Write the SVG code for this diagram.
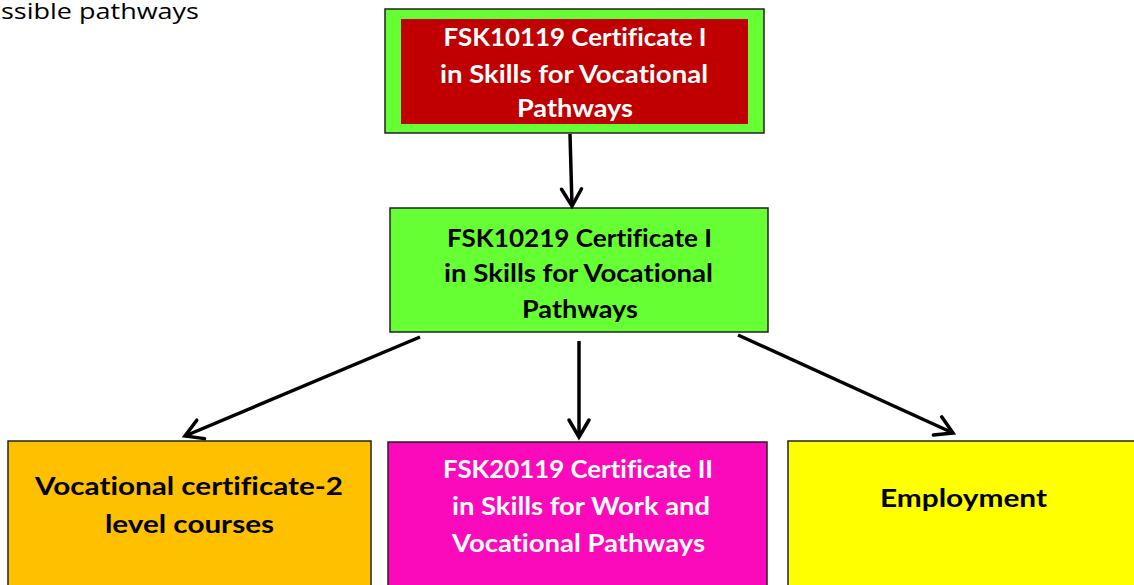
<svg xmlns="http://www.w3.org/2000/svg" width="1134" height="585" viewBox="0 0 1134 585">
  <style>
    .box { stroke: #222; stroke-width: 1.5; }
    .lbl { font-family: Lato, "Liberation Sans", sans-serif; font-weight: bold; font-size: 25px; text-anchor: middle; font-variant-ligatures: none; }
    .dark { fill: #000; }
    .light { fill: #fff; }
    .edge { fill: none; stroke: #000; stroke-width: 3.5; marker-end: url(#chev); }
  </style>
  <defs>
    <marker id="chev" markerUnits="userSpaceOnUse" markerWidth="30" markerHeight="30" viewBox="-22 -15 26 30" refX="0" refY="0" orient="auto">
      <path d="M-17,-10 L0,0 L-17,10" fill="none" stroke="#000" stroke-width="3.5" stroke-linecap="round" stroke-linejoin="miter"/>
    </marker>
  </defs>

  <rect width="1134" height="585" fill="#fff"/>

  <text x="1" y="19" font-family="'Open Sans', 'Liberation Sans', sans-serif" font-size="21" fill="#000" textLength="198" lengthAdjust="spacingAndGlyphs">ssible pathways</text>

  <g id="cert1-10119">
    <rect class="box" x="385" y="9" width="379" height="124" fill="#66ff33"/>
    <rect x="401" y="19" width="347" height="105" fill="#c00000"/>
    <text class="lbl light" x="575" y="46" textLength="263" lengthAdjust="spacingAndGlyphs">FSK10119 Certificate I</text>
    <text class="lbl light" x="574" y="83" textLength="268" lengthAdjust="spacingAndGlyphs">in Skills for Vocational</text>
    <text class="lbl light" x="575" y="117" textLength="116" lengthAdjust="spacingAndGlyphs">Pathways</text>
  </g>

  <g id="cert1-10219">
    <rect class="box" x="390" y="208" width="378" height="124" fill="#66ff33"/>
    <text class="lbl dark" x="579.5" y="247" textLength="265" lengthAdjust="spacingAndGlyphs">FSK10219 Certificate I</text>
    <text class="lbl dark" x="578.5" y="282" textLength="269" lengthAdjust="spacingAndGlyphs">in Skills for Vocational</text>
    <text class="lbl dark" x="580" y="318" textLength="116" lengthAdjust="spacingAndGlyphs">Pathways</text>
  </g>

  <g id="voc-cert2">
    <rect class="box" x="8" y="441" width="363" height="150" fill="#ffc000"/>
    <text class="lbl dark" x="189" y="495" textLength="308" lengthAdjust="spacingAndGlyphs">Vocational certificate-2</text>
    <text class="lbl dark" x="189.5" y="533" textLength="169" lengthAdjust="spacingAndGlyphs">level courses</text>
  </g>

  <g id="cert2-20119">
    <rect class="box" x="388" y="442" width="379" height="150" fill="#fa0aba"/>
    <text class="lbl light" x="578" y="478" textLength="270" lengthAdjust="spacingAndGlyphs">FSK20119 Certificate II</text>
    <text class="lbl light" x="581" y="515" textLength="258" lengthAdjust="spacingAndGlyphs">in Skills for Work and</text>
    <text class="lbl light" x="578.5" y="552" textLength="253" lengthAdjust="spacingAndGlyphs">Vocational Pathways</text>
  </g>

  <g id="employment">
    <rect class="box" x="788" y="441" width="360" height="150" fill="#ffff00"/>
    <text class="lbl dark" x="963.5" y="507" textLength="167" lengthAdjust="spacingAndGlyphs">Employment</text>
  </g>

  <g id="connectors">
    <line class="edge" x1="570" y1="134" x2="572" y2="206"/>
    <line class="edge" x1="420" y1="337" x2="185" y2="436"/>
    <line class="edge" x1="579" y1="341" x2="579" y2="437"/>
    <line class="edge" x1="738" y1="335" x2="953" y2="433"/>
  </g>
</svg>
